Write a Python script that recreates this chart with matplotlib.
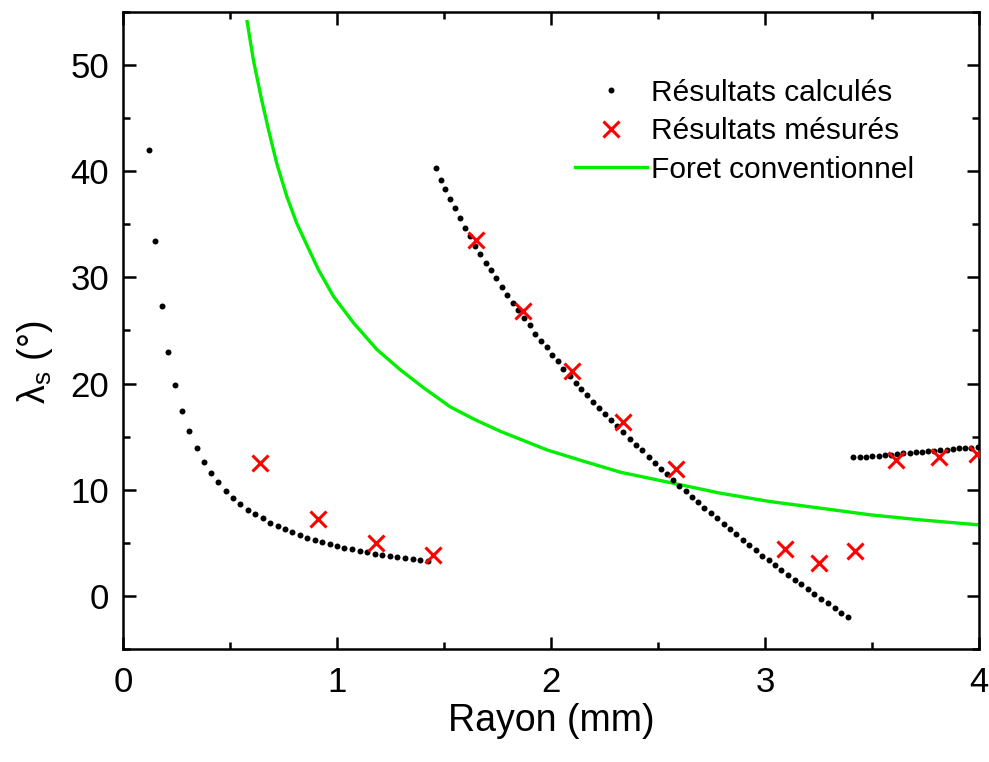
import matplotlib
matplotlib.use("Agg")
import matplotlib.pyplot as plt

plt.rcParams["font.family"] = ["Liberation Sans", "DejaVu Sans"]
plt.rcParams["mathtext.fontset"] = "custom"
plt.rcParams["mathtext.rm"] = "Liberation Sans"
plt.rcParams["mathtext.it"] = "Liberation Sans"

# calculated results, three branches
calc1_x = [0.123, 0.151, 0.181, 0.212, 0.245, 0.278, 0.310, 0.345, 0.377, 0.413,
           0.446, 0.480, 0.515, 0.549, 0.583, 0.618, 0.652, 0.688, 0.724, 0.758,
           0.792, 0.827, 0.861, 0.895, 0.930, 0.965, 1.001, 1.035, 1.071, 1.107,
           1.141, 1.176, 1.212, 1.248, 1.282, 1.318, 1.353, 1.388, 1.425]
calc1_y = [42.0, 33.4, 27.3, 23.0, 19.9, 17.4, 15.5, 13.9, 12.6, 11.6,
           10.7, 9.9, 9.2, 8.66, 8.1, 7.7, 7.3, 6.9, 6.6, 6.3,
           6.0, 5.7, 5.5, 5.3, 5.05, 4.87, 4.68, 4.52, 4.4, 4.24,
           4.1, 3.98, 3.86, 3.77, 3.7, 3.6, 3.5, 3.42, 3.3]

calc2_x = [1.463, 1.485, 1.506, 1.528, 1.550, 1.573, 1.597, 1.620, 1.645, 1.670,
           1.695, 1.720, 1.745, 1.770, 1.796, 1.821, 1.848, 1.876, 1.901, 1.927,
           1.954, 1.980, 2.007, 2.032, 2.058, 2.087, 2.115, 2.141, 2.169, 2.197,
           2.225, 2.251, 2.279, 2.308, 2.336, 2.367, 2.395, 2.426, 2.456, 2.484,
           2.514, 2.542, 2.570, 2.600, 2.629, 2.657, 2.688, 2.717, 2.748, 2.777,
           2.807, 2.836, 2.866, 2.897, 2.927, 2.956, 2.986, 3.017, 3.047, 3.076,
           3.108, 3.139, 3.170, 3.201, 3.231, 3.264, 3.295, 3.326, 3.357, 3.389]
calc2_y = [40.27, 39.2, 38.3, 37.35, 36.5, 35.6, 34.7, 33.9, 33.0, 32.2,
           31.4, 30.7, 29.9, 29.1, 28.3, 27.6, 26.9, 26.2, 25.5, 24.7,
           24.0, 23.4, 22.7, 22.1, 21.4, 20.75, 20.1, 19.5, 18.9, 18.3,
           17.7, 17.1, 16.6, 16.0, 15.4, 14.75, 14.2, 13.7, 13.06, 12.5,
           12.0, 11.5, 10.9, 10.4, 9.9, 9.3, 8.8, 8.3, 7.8, 7.3,
           6.8, 6.3, 5.8, 5.3, 4.8, 4.3, 3.8, 3.4, 2.9, 2.45,
           1.98, 1.5, 1.1, 0.63, 0.19, -0.25, -0.69, -1.13, -1.57, -2.0]

calc3_x = [3.412, 3.442, 3.471, 3.501, 3.531, 3.559, 3.588, 3.618, 3.646, 3.676,
           3.704, 3.733, 3.761, 3.791, 3.819, 3.849, 3.877, 3.905, 3.934, 3.963,
           3.994]
calc3_y = [13.06, 13.09, 13.12, 13.15, 13.18, 13.24, 13.3, 13.37, 13.43, 13.5,
           13.56, 13.59, 13.62, 13.68, 13.72, 13.78, 13.84, 13.9, 13.94, 13.97,
           14.03]

# measured results
meas_x = [0.641, 0.911, 1.180, 1.450, 1.651, 1.870, 2.099, 2.338, 2.582,
          3.092, 3.253, 3.421, 3.613, 3.813, 3.990]
meas_y = [12.5, 7.2, 5.02, 3.86, 33.5, 26.8, 21.2, 16.35, 12.0,
          4.4, 3.14, 4.2, 12.8, 13.1, 13.4]

# conventional drill
conv_x = [0.58, 0.61, 0.645, 0.680, 0.719, 0.766, 0.812, 0.859, 0.914, 0.984,
          1.078, 1.187, 1.296, 1.405, 1.53, 1.645, 1.764, 1.982, 2.15, 2.325,
          2.575, 2.793, 3.027, 3.261, 3.495, 3.729, 4.0]
conv_y = [54.1, 50.4, 47.0, 43.9, 40.7, 37.6, 35.1, 33.05, 30.7, 28.2,
          25.7, 23.2, 21.3, 19.6, 17.8, 16.6, 15.5, 13.75, 12.7, 11.65,
          10.6, 9.67, 8.88, 8.26, 7.63, 7.16, 6.69]

fig = plt.figure(figsize=(9.89, 7.62), dpi=100)
ax = fig.add_axes([123 / 989, 1 - 649 / 762, (979 - 123) / 989, (649 - 12) / 762])

ax.plot(conv_x, conv_y, color="#00ee00", lw=2.4, zorder=2,
        label="Foret conventionnel")
dot_kw = dict(ls="none", marker="o", ms=4.3, color="black", mew=0, zorder=3)
ax.plot(calc1_x, calc1_y, label="Résultats calculés", **dot_kw)
ax.plot(calc2_x, calc2_y, **dot_kw)
ax.plot(calc3_x, calc3_y, **dot_kw)
ax.plot(meas_x, meas_y, ls="none", marker="x", ms=11, mew=2.2, color="red",
        zorder=4, label="Résultats mésurés")

ax.set_xlim(0, 4)
ax.set_ylim(-5, 55)
ax.set_xticks([0, 1, 2, 3, 4])
ax.set_xticks([0.5, 1.5, 2.5, 3.5], minor=True)
ax.set_yticks([0, 10, 20, 30, 40, 50])
ax.set_yticks([-5, 5, 15, 25, 35, 45, 55], minor=True)
ax.tick_params(which="both", direction="in", top=True, right=True,
               width=1.8, labelsize=25)
ax.tick_params(axis="x", which="both", pad=12)
ax.tick_params(axis="y", which="both", pad=10)
ax.tick_params(which="major", length=9)
ax.tick_params(which="minor", length=5)
for s in ax.spines.values():
    s.set_linewidth(1.8)

ax.set_xlabel("Rayon (mm)", fontsize=27, labelpad=3)
ax.set_ylabel(r"$\mathregular{\lambda_s}$ (°)", fontsize=27)
ax.yaxis.set_label_coords(-0.08, 0.45)

h, l = ax.get_legend_handles_labels()
order = [1, 2, 0]
ax.legend([h[i] for i in order], [l[i] for i in order], loc="upper left",
          bbox_to_anchor=(0.528, 0.895), frameon=False, fontsize=21.5,
          handlelength=2.4, handletextpad=0.15, borderpad=0, borderaxespad=0,
          labelspacing=0.35, numpoints=1)

fig.savefig("out.png", dpi=100)
